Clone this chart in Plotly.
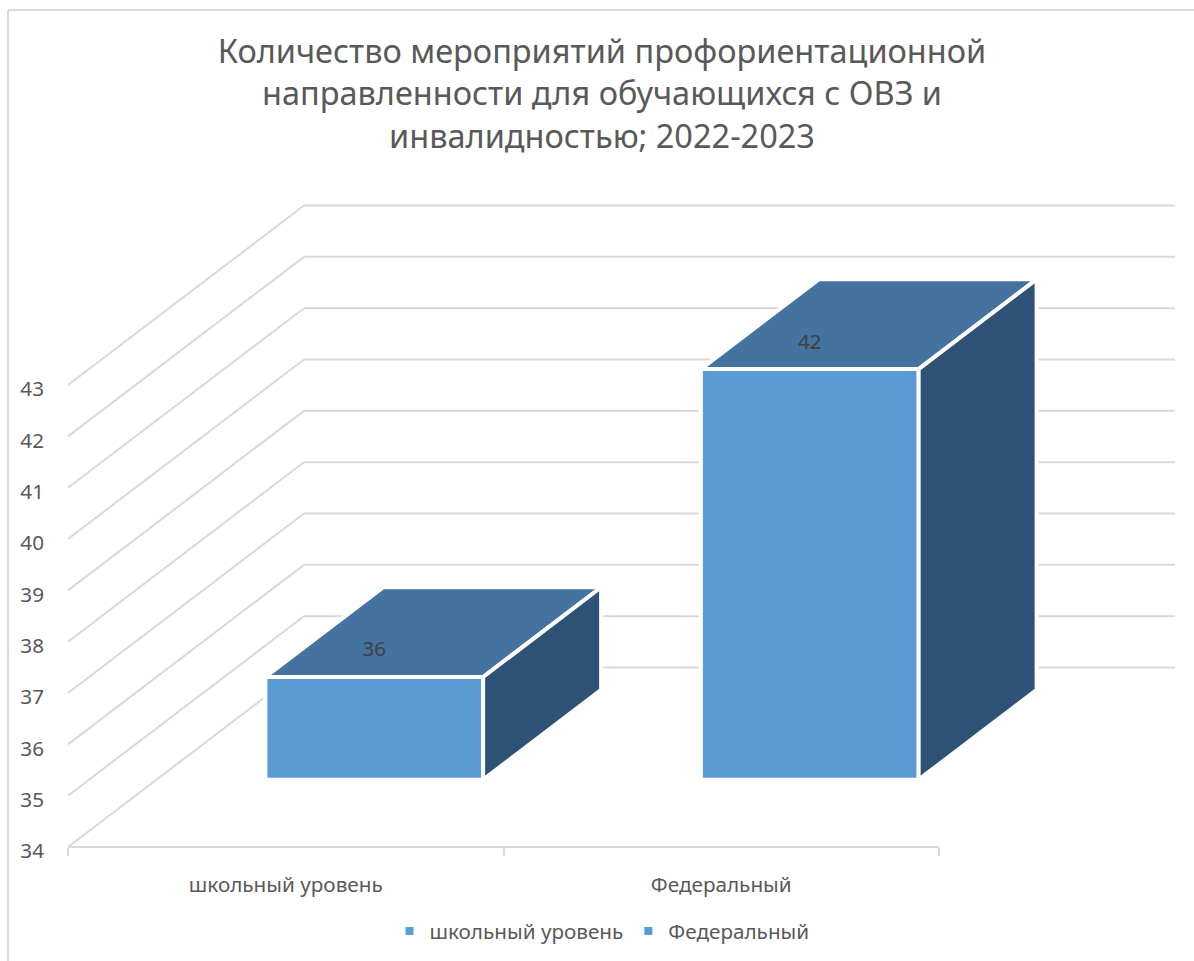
import plotly.graph_objects as go

title_lines = ["Количество мероприятий профориентационной",
               "направленности для обучающихся с ОВЗ и",
               "инвалидностью; 2022-2023"]
categories = ["школьный уровень", "Федеральный"]
values = [36, 42]
y_ticks = [34, 35, 36, 37, 38, 39, 40, 41, 42, 43]

FONT = "Noto Sans"
GREY = "#595959"
GRID = "#D9D9D9"
FRONT, TOP, SIDE = "#5B9BD5", "#44739F", "#2E5275"

# pixel scale of the front plane
L, R, T, BOT = 68, 1176, 197, 847
W, H = 1194, 961
PX_X, PX_Y = 435.5, 51.33
# oblique projection of the depth axis (data units per full depth)
DX, DY = 236 / PX_X, 179.5 / PX_Y
YMIN = y_ticks[0]
D0, D1 = 0.375, 0.875
BW = 0.5


def proj(x, v, d):
    return x + d * DX, v + d * DY


def poly(pts, color):
    xs, ys = zip(*(pts + pts[:1]))
    return go.Scatter(x=xs, y=ys, mode="lines", fill="toself", fillcolor=color,
                      line=dict(color="white", width=4), hoverinfo="skip", showlegend=False)


fig = go.Figure()
shapes = []


def grid_line(p, q):
    shapes.append(dict(type="line", xref="x", yref="y", x0=p[0], y0=p[1], x1=q[0], y1=q[1],
                       line=dict(color=GRID, width=2), layer="below"))


for v in y_ticks:
    grid_line(proj(0, v, 0), proj(0, v, 1))
    grid_line(proj(0, v, 1), proj(len(categories), v, 1))
# category axis line: paper y so that it is not clipped at the plot edge
shapes.append(dict(type="line", xref="x", yref="paper", x0=0, x1=len(categories), y0=0, y1=0,
                   line=dict(color=GRID, width=2), layer="below"))

# frame
for x0, y0, x1, y1 in [(8, 10, 8, H), (8, 10, W, 10)]:
    shapes.append(dict(type="line", xref="paper", yref="paper",
                       x0=(x0 - L) / (R - L), x1=(x1 - L) / (R - L),
                       y0=(BOT - y0) / (BOT - T), y1=(BOT - y1) / (BOT - T),
                       line=dict(color=GRID, width=2), layer="below"))

for i, (name, v) in enumerate(zip(categories, values)):
    a, b = i + 0.25, i + 0.25 + BW
    fx, base = proj(i + 0.5, YMIN, D0)
    fig.add_trace(go.Bar(x=[fx], y=[v - YMIN], base=[base], width=[BW],
                         marker=dict(color=FRONT, line=dict(color="white", width=4)),
                         hoverinfo="skip", showlegend=False))
    fig.add_trace(poly([proj(a, v, D0), proj(b, v, D0), proj(b, v, D1), proj(a, v, D1)], TOP))
    fig.add_trace(poly([proj(b, v, D0), proj(b, v, D1), proj(b, YMIN, D1), proj(b, YMIN, D0)], SIDE))
    tx, ty = proj(i + 0.5, v, D0)
    fig.add_trace(go.Scatter(x=[tx], y=[ty + 0.5], mode="text", text=[str(v)],
                             textfont=dict(family=FONT, size=20.5, color="#404040"),
                             hoverinfo="skip", showlegend=False))

for name in categories:
    fig.add_trace(go.Scatter(x=[None], y=[None], mode="markers", name=name,
                             marker=dict(symbol="square", size=8, color=FRONT)))

fig.update_layout(
    width=W, height=H, autosize=False,
    margin=dict(l=L, r=W - R, t=T, b=H - BOT),
    paper_bgcolor="white", plot_bgcolor="white",
    font=dict(family=FONT, color=GREY, size=20.7),
    barmode="overlay", shapes=shapes,
    title=dict(text="<br>".join(title_lines), x=602 / W, xanchor="center", xref="container",
               y=1 - 63 / H, yanchor="top", yref="container",
               font=dict(family=FONT, size=32.5, color=GREY)),
    xaxis=dict(range=[0, (R - L) / PX_X], showgrid=False, zeroline=False, showline=False,
               tickmode="array", tickvals=[i + 0.5 for i in range(len(categories))],
               ticktext=categories, ticks="", ticklabelstandoff=23,
               minor=dict(tickmode="array", tickvals=list(range(len(categories) + 1)),
                          ticks="outside", ticklen=8, tickwidth=2, tickcolor=GRID, showgrid=False),
               tickfont=dict(family=FONT, size=20.7, color=GREY)),
    yaxis=dict(range=[YMIN, YMIN + (BOT - T) / PX_Y], showgrid=False, zeroline=False, showline=False,
               tickmode="array", tickvals=y_ticks, ticktext=[str(t) for t in y_ticks],
               ticks="", ticklabelstandoff=23, ticklabelshift=4,
               tickfont=dict(family=FONT, size=20.7, color=GREY)),
    legend=dict(orientation="h", x=602 / W, xanchor="center", xref="container",
                y=1 - 931 / H, yanchor="middle", yref="container",
                font=dict(family=FONT, size=20.7, color=GREY), bgcolor="rgba(0,0,0,0)"),
)

fig.write_html("out.html", config={"displayModeBar": False},
               post_script="document.body.style.margin='0';document.body.style.overflow='hidden';")
